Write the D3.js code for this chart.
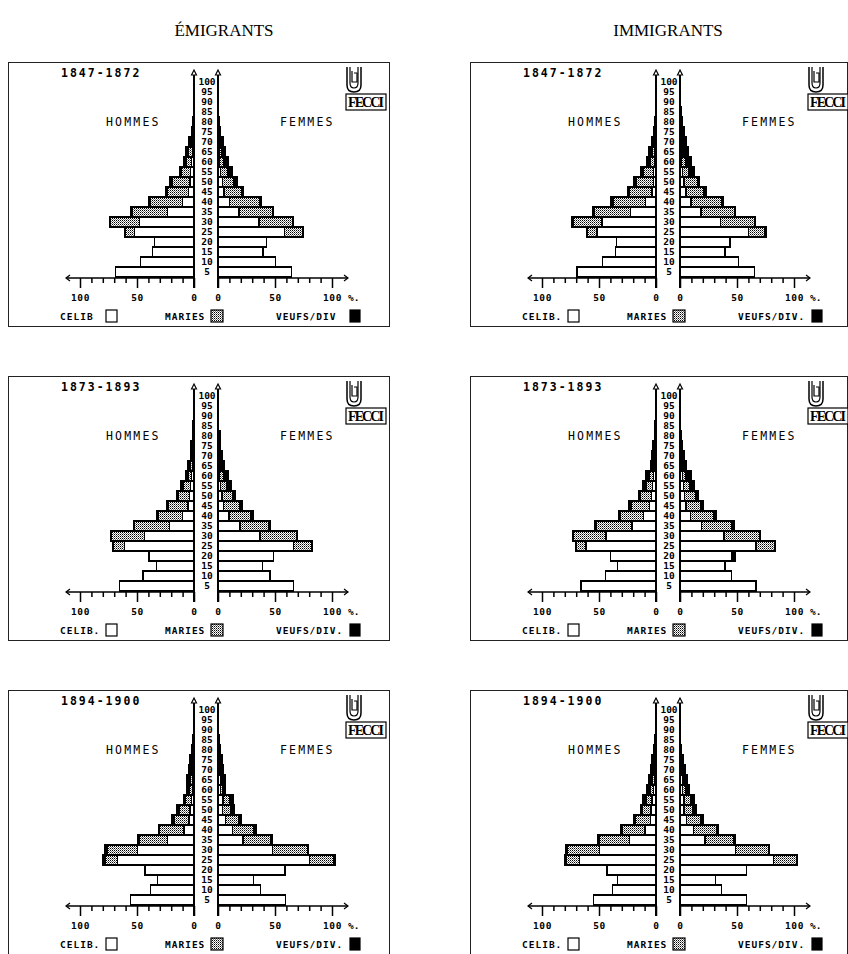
<!DOCTYPE html>
<html>
<head>
<meta charset="utf-8">
<title>Émigrants / Immigrants</title>
<script src="https://cdn.jsdelivr.net/npm/d3@7"></script>
<style>
  body { margin: 0; background: #fff; }
  .px { font-family: "DejaVu Sans Mono", monospace; font-weight: bold; fill: #000; }
</style>
</head>
<body>
<script>
var ages = [5, 10, 15, 20, 25, 30, 35, 40, 45, 50, 55, 60, 65, 70, 75, 80, 85, 90, 95, 100];
var tickVals = [0, 10, 20, 30, 40, 50, 60, 70, 80, 90, 100];
var periods = ["1847-1872", "1873-1893", "1894-1900"];
var columns = ["ÉMIGRANTS", "IMMIGRANTS"];

// émigrants 1847-1872 (ages 5..100)
var emi1H_cel = [69, 47, 36.5, 34.5, 52.5, 48, 23, 10, 4.5, 3.5, 3, 2, 1.5, 0.8, 0.5, 0.3, 0.2, 0, 0, 0];
var emi1H_mar = [0, 0, 0, 0.3, 8, 25, 31, 28.5, 19, 15.5, 8, 4.5, 3, 1.5, 0.5, 0.3, 0.1, 0, 0, 0];
var emi1H_veu = [0, 0, 0, 0, 0.5, 1, 1.5, 1.5, 1.5, 2, 2, 2.5, 3, 2.2, 1, 0.6, 0.4, 0, 0, 0];
var emi1F_cel = [64.5, 50.5, 39.5, 42.5, 58.5, 36, 18.5, 10, 5.3, 3.8, 2.3, 1.5, 0.8, 0.5, 0.3, 0.2, 0.1, 0, 0, 0];
var emi1F_mar = [0, 0, 0, 0.3, 16, 29, 29, 26.5, 15, 10, 6, 3.5, 2, 1, 0.4, 0.2, 0.1, 0, 0, 0];
var emi1F_veu = [0, 0, 0, 0, 0.5, 1, 1.5, 1.5, 2, 3, 4.5, 4, 4, 3.5, 1.8, 1.2, 0.5, 0.2, 0, 0];

// émigrants 1873-1893
var emi2H_cel = [65.2, 44.7, 33, 39.5, 60.8, 43.3, 21.3, 10.2, 5.3, 3.8, 3, 2, 1.2, 0.5, 0.3, 0.2, 0.1, 0, 0, 0];
var emi2H_mar = [0, 0, 0, 0, 9.7, 29.2, 30.7, 21.4, 17.5, 10.2, 6.6, 3.3, 2, 0.5, 0.3, 0.2, 0.1, 0, 0, 0];
var emi2H_veu = [0, 0, 0, 0, 0.5, 0.9, 1, 1, 1, 1.5, 2, 2.3, 2.1, 2.2, 2.4, 0.8, 1.2, 0.2, 0, 0];
var emi2F_cel = [66, 45.6, 39, 48.5, 66, 36.8, 19.3, 9.6, 4.7, 3.5, 2.5, 1.5, 1, 0.5, 0.3, 0.2, 0.1, 0, 0, 0];
var emi2F_mar = [0, 0, 0, 0, 16, 32.2, 24.7, 19.4, 14.6, 9.4, 5, 3.2, 1.5, 0.8, 0.4, 0.2, 0.1, 0, 0, 0];
var emi2F_veu = [0, 0, 0, 0, 0.5, 1, 2, 2, 2, 2.6, 4.5, 4.3, 3.5, 2.5, 1.6, 1.4, 0.4, 0, 0, 0];

// émigrants 1894-1900
var emi3H_cel = [55.5, 38, 32, 43, 67, 49.7, 23.4, 8.8, 4.4, 3.5, 2.5, 1.5, 1.5, 1, 0.8, 0.5, 0.3, 0.1, 0, 0];
var emi3H_mar = [0, 0, 0, 0, 11, 26.3, 24.8, 21.2, 13.1, 9.5, 4.8, 2.5, 2, 1.5, 1, 0.5, 0.2, 0, 0, 0];
var emi3H_veu = [0, 0, 0, 0, 2.4, 2, 1.5, 1.3, 2.1, 2.2, 1.5, 2.4, 2.9, 2.5, 1.7, 1, 0.5, 0.2, 0, 0];
var emi3F_cel = [59.4, 37.4, 31, 58.8, 80.4, 47.7, 22, 12.6, 6.7, 4, 4.4, 2.5, 2, 1.5, 1, 0.5, 0.2, 0.1, 0, 0];
var emi3F_mar = [0, 0, 0, 0, 21.3, 30.7, 24.2, 19, 11.7, 7, 5.6, 1.5, 1.5, 1, 0.8, 0.5, 0.2, 0, 0, 0];
var emi3F_veu = [0, 0, 0, 0, 0.9, 0.6, 1.5, 2, 2.4, 3, 3.5, 2.7, 3.2, 2.5, 2, 1.3, 0.6, 0.2, 0, 0];

// immigrants 1847-1872
var imm1H_cel = [69.3, 46.8, 35.7, 35, 51.8, 47.4, 22.5, 9.4, 3.5, 2.5, 2, 1.5, 1, 0.5, 0.3, 0.2, 0.1, 0, 0, 0];
var imm1H_mar = [0, 0, 0, 0, 8.2, 24.8, 31.5, 28.3, 19.5, 15, 8.8, 3.5, 2.5, 1, 0.5, 0.3, 0.1, 0, 0, 0];
var imm1H_veu = [0, 0, 0, 0, 0.6, 1.5, 1.3, 1.8, 1.9, 2.1, 2.4, 2.9, 2.9, 2, 1.2, 0.7, 0.3, 0, 0, 0];
var imm1F_cel = [65.2, 51.2, 39.5, 43.9, 60, 35.7, 18.4, 9.6, 5.3, 3.5, 2.3, 1.5, 1, 0.5, 0.3, 0.2, 0.1, 0, 0, 0];
var imm1F_mar = [0, 0, 0, 0, 14.6, 29.3, 29.8, 26.9, 15.2, 12, 5, 3.5, 1.5, 1, 0.4, 0.2, 0.1, 0, 0, 0];
var imm1F_veu = [0, 0, 0, 0, 0.8, 0.8, 0.8, 1.5, 2.3, 1.5, 5, 4.6, 4.8, 3.8, 2.8, 1.9, 0.8, 0, 0, 0];

// immigrants 1873-1893
var imm2H_cel = [65.8, 44.4, 33.6, 40, 61.4, 43.9, 21, 10.8, 5.8, 4, 3, 2, 1, 0.5, 0.3, 0.2, 0.1, 0, 0, 0];
var imm2H_mar = [0, 0, 0, 0, 8.8, 28.3, 31.6, 20.8, 16.2, 9.7, 5.8, 3.5, 1.5, 0.8, 0.5, 0.3, 0.1, 0, 0, 0];
var imm2H_veu = [0, 0, 0, 0, 0.6, 0.8, 0.9, 1.1, 2, 1.5, 2.9, 3.9, 1.9, 2.2, 2.1, 1, 0.8, 0, 0, 0];
var imm2F_cel = [66.7, 45.3, 39.5, 45.5, 66.7, 38.6, 19, 9.4, 5.3, 4, 3, 2, 1, 0.5, 0.3, 0.2, 0.1, 0, 0, 0];
var imm2F_mar = [0, 0, 0, 1, 16.6, 31, 26.3, 19.8, 13.1, 10, 5.8, 3, 1.5, 0.8, 0.4, 0.2, 0.1, 0, 0, 0];
var imm2F_veu = [0, 0, 0, 1.7, 0.6, 0.6, 2.4, 2.4, 2.1, 2, 3.5, 4.6, 3.3, 2.5, 1.6, 1.1, 0.3, 0, 0, 0];

// immigrants 1894-1900
var imm3H_cel = [54.7, 38, 33.6, 43, 67.3, 49.7, 23.4, 9.6, 5, 4.3, 3.5, 2, 1.5, 1, 0.8, 0.5, 0.3, 0.1, 0, 0];
var imm3H_mar = [0, 0, 0, 0, 11.7, 27.8, 26.3, 19.6, 13.4, 8, 5, 2.5, 2, 1.5, 1, 0.5, 0.2, 0, 0, 0];
var imm3H_veu = [0, 0, 0, 0, 1.4, 1.5, 1.5, 1.5, 1.2, 1.4, 3.2, 3.4, 2.9, 2.5, 1.7, 1, 0.5, 0.2, 0, 0];
var imm3F_cel = [58.5, 36.3, 31.3, 58.5, 81.9, 48.8, 21.9, 11.7, 5.8, 3.5, 3.5, 2.5, 2, 1.5, 1, 0.5, 0.2, 0, 0, 0];
var imm3F_mar = [0, 0, 0, 0, 20.4, 29.2, 24.9, 20.5, 12.3, 7.3, 5.9, 2, 1.5, 1, 0.6, 0.4, 0.1, 0, 0, 0];
var imm3F_veu = [0, 0, 0, 0, 0.6, 0.6, 1.4, 1.1, 2.4, 3.5, 3.5, 3.4, 2.9, 1.9, 1.3, 0.6, 0.2, 0, 0, 0];

var panels = [
  {col: 0, row: 0, dot: false, H: [emi1H_cel, emi1H_mar, emi1H_veu], F: [emi1F_cel, emi1F_mar, emi1F_veu]},
  {col: 0, row: 1, dot: true,  H: [emi2H_cel, emi2H_mar, emi2H_veu], F: [emi2F_cel, emi2F_mar, emi2F_veu]},
  {col: 0, row: 2, dot: true,  H: [emi3H_cel, emi3H_mar, emi3H_veu], F: [emi3F_cel, emi3F_mar, emi3F_veu]},
  {col: 1, row: 0, dot: true,  H: [imm1H_cel, imm1H_mar, imm1H_veu], F: [imm1F_cel, imm1F_mar, imm1F_veu]},
  {col: 1, row: 1, dot: true,  H: [imm2H_cel, imm2H_mar, imm2H_veu], F: [imm2F_cel, imm2F_mar, imm2F_veu]},
  {col: 1, row: 2, dot: true,  H: [imm3H_cel, imm3H_mar, imm3H_veu], F: [imm3F_cel, imm3F_mar, imm3F_veu]}
];

var width = 848, height = 954;
var colX = [8, 470], colW = [381, 377], rowY = [62, 376, 690], panelH = 264;
var axisL = 186, axisR = 210, baseY = 215;
var keys = ["celib", "maries", "veufs"];

var svg = d3.select("body").append("svg")
  .attr("width", width)
  .attr("height", height);

// stipple for "maries"
var pat = svg.append("defs").append("pattern")
  .attr("id", "dots")
  .attr("patternUnits", "userSpaceOnUse")
  .attr("width", 2).attr("height", 2);
pat.append("rect").attr("width", 2).attr("height", 2).attr("fill", "#fff");
pat.append("rect").attr("width", 1).attr("height", 1).attr("fill", "#000");
pat.append("rect").attr("x", 1).attr("y", 1).attr("width", 1).attr("height", 1).attr("fill", "#777");

var fills = {celib: "#fff", maries: "url(#dots)", veufs: "#000"};

// column titles
svg.selectAll(".coltitle")
  .data(columns)
  .enter().append("text")
  .attr("x", function(d, i) { return colX[i] + [216, 198][i]; })
  .attr("y", 36)
  .attr("text-anchor", "middle")
  .style("font-family", "'Liberation Serif', serif")
  .style("font-size", "17px")
  .text(function(d) { return d; });

var y = d3.scaleBand().domain(ages).range([baseY, baseY - 10 * ages.length]);
var xL = d3.scaleLinear().domain([0, 100]).range([axisL, axisL - 114]);
var xR = d3.scaleLinear().domain([0, 100]).range([axisR, axisR + 114]);
var stack = d3.stack().keys(keys);

function rows(arrs) {
  return ages.map(function(a, i) {
    return {age: a, celib: arrs[0][i], maries: arrs[1][i], veufs: arrs[2][i]};
  });
}

panels.forEach(function(p) {
  var g = svg.append("g")
    .attr("transform", "translate(" + colX[p.col] + "," + rowY[p.row] + ")");

  g.append("rect")
    .attr("x", 0.5).attr("y", 0.5)
    .attr("width", colW[p.col]).attr("height", panelH)
    .attr("fill", "none").attr("stroke", "#222").attr("stroke-width", 1);

  // bars
  [["H", xL], ["F", xR]].forEach(function(side) {
    var sc = side[1];
    var series = stack(rows(p[side[0]]));
    g.append("g").selectAll("g")
      .data(series)
      .enter().append("g")
      .attr("fill", function(s) { return fills[s.key]; })
      .selectAll("rect")
      .data(function(s) { return s.filter(function(d) { return d[1] - d[0] > 0; }); })
      .enter().append("rect")
      .attr("x", function(d) { return Math.min(sc(d[0]), sc(d[1])); })
      .attr("width", function(d) { return Math.abs(sc(d[1]) - sc(d[0])); })
      .attr("y", function(d) { return y(d.data.age); })
      .attr("height", y.bandwidth())
      .attr("stroke", "#000")
      .attr("stroke-width", 1.2)
      .attr("shape-rendering", "crispEdges");
  });

  // vertical axes with arrow tips
  [axisL, axisR].forEach(function(ax) {
    g.append("line")
      .attr("x1", ax).attr("x2", ax)
      .attr("y1", 11).attr("y2", 226)
      .attr("stroke", "#000").attr("stroke-width", 2);
    g.append("path")
      .attr("d", "M" + (ax - 2.5) + ",13 L" + ax + ",8 L" + (ax + 2.5) + ",13 Z")
      .attr("fill", "#fff").attr("stroke", "#000").attr("stroke-width", 1.2);
  });

  // age labels
  g.append("g").selectAll("text")
    .data(ages)
    .enter().append("text")
    .attr("class", "px")
    .attr("x", (axisL + axisR) / 2 + 1)
    .attr("y", function(d) { return y(d) + y.bandwidth() / 2; })
    .attr("dy", "0.36em")
    .attr("text-anchor", "middle")
    .style("font-size", "9.5px")
    .style("letter-spacing", "0px")
    .text(function(d) { return d; });

  // horizontal axes
  [xL, xR].forEach(function(sc, k) {
    var ax = g.append("g")
      .attr("transform", "translate(0," + (baseY + 1) + ")")
      .call(d3.axisBottom(sc)
        .tickValues(tickVals)
        .tickSize(5)
        .tickFormat(function(d) { return d % 50 === 0 ? d : ""; }));
    ax.select(".domain").remove();
    ax.selectAll(".tick line")
      .attr("stroke-width", 1.5)
      .attr("y2", function(d) { return d % 50 === 0 ? 10 : 5; });
    ax.selectAll(".tick text")
      .attr("class", "px")
      .attr("y", 16)
      .style("font-size", "9.5px")
      .style("letter-spacing", "0.6px");
    var end = k === 0 ? 58 : 340;
    var start = k === 0 ? axisL : axisR;
    g.append("line")
      .attr("x1", start).attr("x2", end)
      .attr("y1", baseY + 1).attr("y2", baseY + 1)
      .attr("stroke", "#000").attr("stroke-width", 1.5);
    var dir = k === 0 ? 1 : -1;
    g.append("path")
      .attr("d", "M" + (end + dir * 4) + "," + (baseY - 2) + " L" + end + "," + (baseY + 1) +
                 " L" + (end + dir * 4) + "," + (baseY + 4))
      .attr("fill", "none").attr("stroke", "#000").attr("stroke-width", 1.2);
  });

  g.append("text").attr("class", "px")
    .attr("x", 340).attr("y", baseY + 24)
    .style("font-size", "9.5px")
    .text("%.");

  // period, sex labels
  g.append("text").attr("class", "px")
    .attr("x", 53).attr("y", 15)
    .style("font-size", "11.5px").style("letter-spacing", "2px")
    .text(periods[p.row]);
  g.append("text").attr("class", "px")
    .attr("x", 98).attr("y", 64)
    .style("font-size", "11.5px").style("letter-spacing", "2.2px")
    .style("font-weight", "normal")
    .text("HOMMES");
  g.append("text").attr("class", "px")
    .attr("x", 272).attr("y", 64)
    .style("font-size", "11.5px").style("letter-spacing", "2.2px")
    .style("font-weight", "normal")
    .text("FEMMES");

  // logo
  var lg = g.append("g").attr("transform", "translate(338,5)");
  lg.append("path")
    .attr("d", "M1,0 V18 Q1,25 8,25 Q15,25 15,18 V0")
    .attr("fill", "none").attr("stroke", "#000").attr("stroke-width", 1.5);
  lg.append("path")
    .attr("d", "M4,0 V16 Q4,21 8,21 Q12,21 12,16 V0")
    .attr("fill", "none").attr("stroke", "#000").attr("stroke-width", 1.2);
  lg.append("path")
    .attr("d", "M6,4 V15 H11 V6 H8")
    .attr("fill", "none").attr("stroke", "#000").attr("stroke-width", 1.2);
  lg.append("rect")
    .attr("x", 0).attr("y", 27).attr("width", 40).attr("height", 16)
    .attr("fill", "#fff").attr("stroke", "#000").attr("stroke-width", 1.2);
  lg.append("text")
    .attr("x", 20).attr("y", 40)
    .attr("text-anchor", "middle")
    .attr("textLength", 36)
    .style("font-family", "'Liberation Serif', serif")
    .style("font-weight", "bold")
    .style("font-size", "14px")
    .text("FECCI");

  // legend
  var dot = p.dot ? "." : "";
  var leg = [
    {label: "CELIB" + dot, tx: 52, bx: 98, bw: 11, key: "celib"},
    {label: "MARIES", tx: 157, bx: 203, bw: 12, key: "maries"},
    {label: "VEUFS/DIV" + dot, tx: 268, bx: 342, bw: 10, key: "veufs"}
  ];
  leg.forEach(function(l) {
    g.append("text").attr("class", "px")
      .attr("x", l.tx).attr("y", 258)
      .style("font-size", "9.5px").style("letter-spacing", "1px")
      .text(l.label);
    g.append("rect")
      .attr("x", l.bx).attr("y", 248).attr("width", l.bw).attr("height", 12)
      .attr("fill", fills[l.key]).attr("stroke", "#000").attr("stroke-width", 1.2);
  });
});
</script>
</body>
</html>
